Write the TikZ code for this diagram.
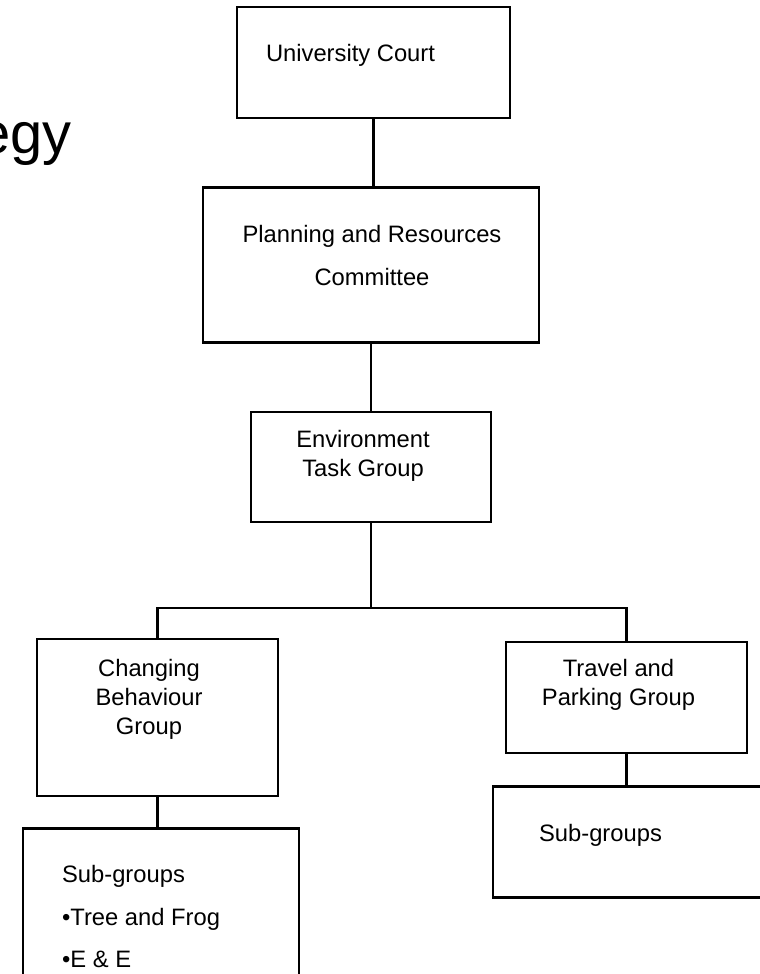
\documentclass[tikz,border=0pt]{standalone}
\usepackage{fontspec}
\setmainfont{Liberation Sans}
\usetikzlibrary{positioning}

\tikzstyle{unit} = [rectangle, draw=black, line width=0.06cm, fill=white]
\tikzstyle{caption} = [inner sep=0pt, align=center, font=\fontsize{16.9}{20.6}\selectfont]
\tikzstyle{link} = [line width=0.055cm]

\begin{document}
\begin{tikzpicture}
			\useasboundingbox [fill=white] (0,0) rectangle (19,-24.35);
			% boxes
			\node (court) [unit, minimum width=6.825cm, minimum height=2.775cm] at (9.3375,-1.5625) {};
			\node (plan) [unit, below=1.675cm of court, xshift=-0.0625cm, minimum width=8.4cm, minimum height=3.875cm] {};
			\node (env) [unit, below=1.675cm of plan, minimum width=6cm, minimum height=2.75cm] {};
			\node (chg) [unit, below=2.875cm of env, xshift=-5.3375cm, minimum width=6.025cm, minimum height=3.925cm] {};
			\node (trv) [unit, below=2.95cm of env, xshift=6.3875cm, minimum width=6.025cm, minimum height=2.775cm] {};
			\node (subL) [unit, below=0.75cm of chg, xshift=0.0875cm, minimum width=6.9cm, minimum height=4.775cm] {};
			\node (subR) [unit, below=0.775cm of trv, xshift=0.3125cm, minimum width=7.3cm, minimum height=2.775cm] {};
			
			% texts
			\node (courtText) [caption] at ([xshift=-0.575cm, yshift=-1.25cm]court.north) {University Court};
			\node (planText) [caption, font=\fontsize{16.9}{30.6}\selectfont] at ([xshift=0.025cm, yshift=-1.7375cm]plan.north) {Planning and Resources\\Committee};
			\node (envText) [caption] at ([xshift=-0.2cm, yshift=-1.1375cm]env.north) {Environment\\Task Group};
			\node (chgText) [caption] at ([xshift=-0.2125cm, yshift=-1.5375cm]chg.north) {Changing\\Behaviour\\Group};
			\node (trvText) [caption] at ([xshift=-0.2cm, yshift=-1.1cm]trv.north) {Travel and\\Parking Group};
			\node (subLText) [caption, align=left, anchor=west, font=\fontsize{16.9}{30.2}\selectfont] at ([xshift=1cm, yshift=-2.2375cm]subL.north west) {Sub-groups\\•Tree and Frog\\•E \& E};
			\node (subRText) [caption, anchor=west] at ([xshift=1.175cm, yshift=-1.2375cm]subR.north west) {Sub-groups};
			\node (title) [anchor=base east, inner sep=0pt, font=\fontsize{41.2}{49}\selectfont] at (1.8,-3.825) {egy};
			
			% connectors
			\coordinate (fork) at ([yshift=0.75cm]chg.north);
			\draw [link] (court) -- (court |- plan.north);
			\draw [link] (plan) -- (plan |- env.north);
			\draw [link] (env) -- (env |- fork);
			\draw [link] (chg.north) -- (fork) -| (trv.north);
			\draw [link] (chg) -- (chg |- subL.north);
			\draw [link] (trv) -- (trv |- subR.north);
			
		\end{tikzpicture}
\end{document}
